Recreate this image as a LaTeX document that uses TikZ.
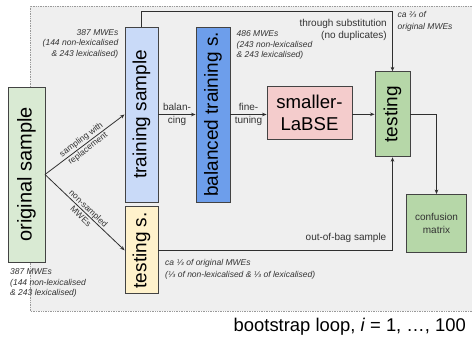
\documentclass[tikz,border=0pt]{standalone}
\usepackage{fontspec}
\setmainfont{Liberation Sans}
\newfontfamily\dejavu{DejaVu Sans}[Scale=0.9]
\usetikzlibrary{arrows.meta}
\definecolor{bggray}{HTML}{EFEFEF}
\definecolor{dotgray}{HTML}{9A9A9A}
\definecolor{bordc}{HTML}{434343}
\definecolor{linec}{HTML}{2F2F2F}
\definecolor{textc}{HTML}{333333}
\definecolor{osgreen}{HTML}{D9EAD3}
\definecolor{tsblue}{HTML}{C9DAF8}
\definecolor{btblue}{HTML}{6D9EEB}
\definecolor{tsyellow}{HTML}{FFF2CC}
\definecolor{labpink}{HTML}{F4CCCC}
\definecolor{tegreen}{HTML}{B6D7A8}
\newcommand{\thr}{{\dejavu ⅓}}
\newcommand{\twothr}{{\dejavu ⅔}}
\begin{document}
\begin{tikzpicture}[x=1pt,y=-1pt,
  box/.style={draw=bordc, line width=0.9pt, inner sep=0pt, align=center, text=black},
  vbox/.style={box, rotate=90},
  conn/.style={draw=linec, line width=0.8pt},
  arr/.style={conn, -{Stealth[length=4.5pt,width=3.6pt]}},
  big/.style={font=\fontsize{19}{22}\selectfont},
  mid/.style={font=\fontsize{10}{12.5}\selectfont, text=textc, inner sep=0pt},
  note/.style={font=\fontsize{8.5}{10.5}\selectfont\itshape, text=textc, inner sep=0pt},
  slab/.style={font=\fontsize{8.5}{11}\selectfont, text=textc, inner sep=0pt, align=center, sloped},
]
\useasboundingbox (0,0) rectangle (472,340);
\fill[bggray] (30,6) rectangle (472,311);
\draw[dotgray, densely dotted, line width=0.7pt] (472,6) -- (30,6) -- (30,311) -- (472,311);

% boxes
\node[vbox, fill=osgreen, minimum width=175pt, minimum height=37pt, font=\fontsize{20}{24}\selectfont] (os) at (26.5,174.5) {original sample};
\node[vbox, big, fill=tsblue, minimum width=175pt, minimum height=33pt] (ts) at (141.5,114.5) {training sample};
\node[vbox, big, fill=btblue, minimum width=175pt, minimum height=34pt] (bt) at (213,114.5) {balanced training s.};
\node[vbox, big, fill=tsyellow, minimum width=87pt, minimum height=33pt] (tss) at (141.5,250.3) {testing s.};
\node[box, fill=labpink, minimum width=85pt, minimum height=53pt, font=\fontsize{18.6}{22}\selectfont] (lab) at (309.5,112.5) {smaller-\\LaBSE};
\node[vbox, big, fill=tegreen, minimum width=85pt, minimum height=35pt] (te) at (392.5,114.3) {testing};
\node[box, fill=tegreen, minimum width=60pt, minimum height=58pt, font=\fontsize{10}{13}\selectfont, text=textc] (cm) at (436.5,223.5) {confusion\\matrix};

% connectors
\coordinate (j) at (45,174.5);
\draw[arr] (j) -- (ts.north) node[slab, pos=0.5] {sampling with\\replacement};
\draw[arr] (j) -- (tss.north) node[slab, pos=0.5] {non-sampled\\MWEs};
\draw[arr] (ts.south) -- (bt.north) node[mid, align=center, midway] {balan-\\cing};
\draw[arr] (bt.south) -- (bt.south -| lab.west) node[mid, align=center, midway] {fine-\\tuning};
\draw[arr] (lab.east |- te.center) -- (te.north);
\coordinate (topy) at (0,11.7);
\draw[arr] (ts.east) -- (ts.east |- topy) -| (te.east);
\draw[arr] (te.south) -| (cm.north);
\draw[arr] (tss.south) -| (te.west);

% labels
\node[note, align=right, anchor=north east] (l1) at (118.5,29) {387 MWEs\\(144 non-lexicalised\\\& 243 lexicalised)};
\node[note, align=left, anchor=north west] (l2) at (10,268.5) {387 MWEs\\(144 non-lexicalised\\\& 243 lexicalised)};
\node[note, align=left, anchor=north west] (l3) at (236.5,30.5) {486 MWEs\\(243 non-lexicalised\\\& 243 lexicalised)};
\node[note, align=left, anchor=north west, font=\fontsize{8.5}{12}\selectfont\itshape] (l4) at (165,259.5) {ca \thr{} of original MWEs\\(\thr{} of non-lexicalised \& \thr{} of lexicalised)};
\node[note, align=left, anchor=north west, font=\fontsize{8.5}{12}\selectfont\itshape] (l5) at (397.5,11) {ca \twothr{} of\\original MWEs};
\node[mid, align=right, anchor=north east] (l6) at (387,19) {through substitution\\(no duplicates)};
\node[mid, anchor=east] (l7) at (386.5,238.3) {out-of-bag sample};
\node[inner sep=0pt, anchor=east, font=\fontsize{18.4}{22}\selectfont, text=black] (l8) at (466,326.5) {bootstrap loop, \textit{i} = 1, …, 100};
\end{tikzpicture}
\end{document}
